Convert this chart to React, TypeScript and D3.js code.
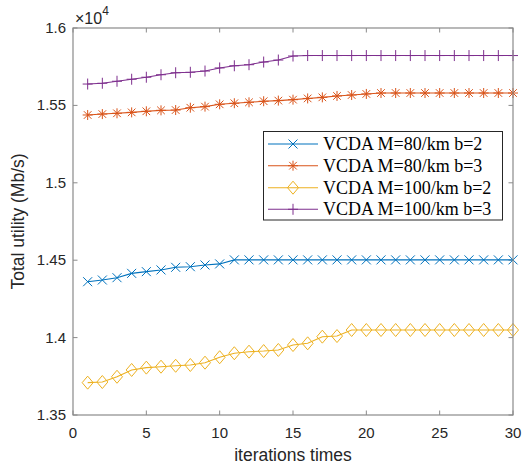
import React from "react";
import * as d3 from "d3";

const iterations = [1, 2, 3, 4, 5, 6, 7, 8, 9, 10, 11, 12, 13, 14, 15, 16, 17, 18, 19, 20, 21, 22, 23, 24, 25, 26, 27, 28, 29, 30];

const m80b2 = [14361, 14372, 14387, 14415, 14426, 14437, 14454, 14458, 14469, 14476, 14502, 14502, 14502, 14502, 14502, 14502, 14502, 14502, 14502, 14502, 14502, 14502, 14502, 14502, 14502, 14502, 14502, 14502, 14502, 14502];
const m80b3 = [15438, 15444, 15449, 15455, 15462, 15468, 15470, 15485, 15492, 15507, 15514, 15520, 15527, 15531, 15537, 15545, 15552, 15561, 15567, 15574, 15580, 15580, 15580, 15580, 15580, 15580, 15580, 15580, 15580, 15580];
const m100b2 = [13709, 13713, 13747, 13791, 13806, 13812, 13818, 13823, 13838, 13873, 13899, 13909, 13913, 13920, 13952, 13963, 14006, 14010, 14049, 14049, 14049, 14049, 14049, 14049, 14049, 14049, 14049, 14049, 14049, 14049];
const m100b3 = [15638, 15643, 15656, 15669, 15682, 15698, 15711, 15714, 15722, 15742, 15756, 15763, 15780, 15793, 15819, 15822, 15822, 15822, 15822, 15822, 15822, 15822, 15822, 15822, 15822, 15822, 15822, 15822, 15822, 15822];

const xTicks = [0, 5, 10, 15, 20, 25, 30];
const yTicks = [13500, 14000, 14500, 15000, 15500, 16000];
const yTickLabels = ["1.35", "1.4", "1.45", "1.5", "1.55", "1.6"];

const series = [
  { name: "VCDA M=80/km b=2", values: m80b2, color: "#0072BD", marker: "x" },
  { name: "VCDA M=80/km b=3", values: m80b3, color: "#D95319", marker: "star" },
  { name: "VCDA M=100/km b=2", values: m100b2, color: "#EDB120", marker: "diamond" },
  { name: "VCDA M=100/km b=3", values: m100b3, color: "#7E2F8E", marker: "plus" },
];

const markerPath = (type: string, cx: number, cy: number) => {
  const s = 4.5;
  if (type === "x") return `M${cx - s},${cy - s}L${cx + s},${cy + s}M${cx - s},${cy + s}L${cx + s},${cy - s}`;
  if (type === "plus") return `M${cx},${cy - 5.5}L${cx},${cy + 5.5}M${cx - 5},${cy}L${cx + 5},${cy}`;
  if (type === "diamond") return `M${cx},${cy - 6.5}L${cx + 5.5},${cy}L${cx},${cy + 6.5}L${cx - 5.5},${cy}Z`;
  // star: plus + x
  const d = 3.8;
  return `M${cx},${cy - 5}L${cx},${cy + 5}M${cx - 5},${cy}L${cx + 5},${cy}M${cx - d},${cy - d}L${cx + d},${cy + d}M${cx - d},${cy + d}L${cx + d},${cy - d}`;
};

const App = () => {
  const left = 73, right = 513, top = 28, bottom = 415;
  const x = d3.scaleLinear().domain([0, 30]).range([left, right]);
  const y = d3.scaleLinear().domain([13500, 16000]).range([bottom, top]);
  const line = d3
    .line<number>()
    .x((_, i) => x(iterations[i]))
    .y((d) => y(d));

  const axisColor = "#8a8a8a";
  const textColor = "#262626";
  const sans = "'Liberation Sans', Arial, sans-serif";
  const serif = "'Liberation Serif', 'Times New Roman', serif";

  const lg = { x: 263.5, y: 131.5, w: 239, h: 88.5 };
  const rowY = [144, 165.7, 187.7, 209.3];

  return (
    <svg width={525} height={469} style={{ position: "absolute", left: 0, top: 0, background: "#fff" }}>
      <rect x={0} y={0} width={525} height={469} fill="#fff" />
      {/* ticks */}
      {xTicks.map((t) => (
        <g key={"xt" + t}>
          <line x1={x(t)} x2={x(t)} y1={bottom} y2={bottom - 4.5} stroke={axisColor} />
          <line x1={x(t)} x2={x(t)} y1={top} y2={top + 4.5} stroke={axisColor} />
          <text x={x(t)} y={438} textAnchor="middle" fontFamily={sans} fontSize={15} fill={textColor}>
            {t}
          </text>
        </g>
      ))}
      {yTicks.map((t, i) => (
        <g key={"yt" + t}>
          <line x1={left} x2={left + 4.5} y1={y(t)} y2={y(t)} stroke={axisColor} />
          <line x1={right} x2={right - 4.5} y1={y(t)} y2={y(t)} stroke={axisColor} />
          <text x={66} y={y(t) + 5} textAnchor="end" fontFamily={sans} fontSize={15} fill={textColor}>
            {yTickLabels[i]}
          </text>
        </g>
      ))}
      <text x={75} y={24} fontFamily={sans} fontSize={16} fill={textColor}>
        ×10
        <tspan dy={-9} fontSize={12}>4</tspan>
      </text>
      {/* series */}
      {series.map((s) => (
        <g key={s.name}>
          <path d={line(s.values) || ""} fill="none" stroke={s.color} strokeWidth={1.1} />
          {s.values.map((v, i) => (
            <path key={i} d={markerPath(s.marker, x(iterations[i]), y(v))} fill="none" stroke={s.color} strokeWidth={1} />
          ))}
        </g>
      ))}
      {/* box */}
      <rect x={left} y={top} width={right - left} height={bottom - top} fill="none" stroke={axisColor} strokeWidth={1.2} />
      {/* axis labels */}
      <text x={(left + right) / 2} y={461} textAnchor="middle" fontFamily={sans} fontSize={17.5} fill={textColor}>
        iterations times
      </text>
      <text
        transform={`translate(24,${(top + bottom) / 2}) rotate(-90)`}
        textAnchor="middle"
        fontFamily={sans}
        fontSize={17.5}
        fill={textColor}
      >
        Total utility (Mb/s)
      </text>
      {/* legend */}
      <rect x={lg.x} y={lg.y} width={lg.w} height={lg.h} fill="#fff" stroke="#262626" strokeWidth={1} />
      {series.map((s, i) => (
        <g key={"lg" + s.name}>
          <line x1={268} x2={318} y1={rowY[i]} y2={rowY[i]} stroke={s.color} strokeWidth={1.1} />
          <path d={markerPath(s.marker, 293, rowY[i])} fill="none" stroke={s.color} strokeWidth={1} />
          <text x={323} y={rowY[i] + 6} fontFamily={serif} fontSize={18} fill="#000">
            {s.name}
          </text>
        </g>
      ))}
    </svg>
  );
};

export default App;
